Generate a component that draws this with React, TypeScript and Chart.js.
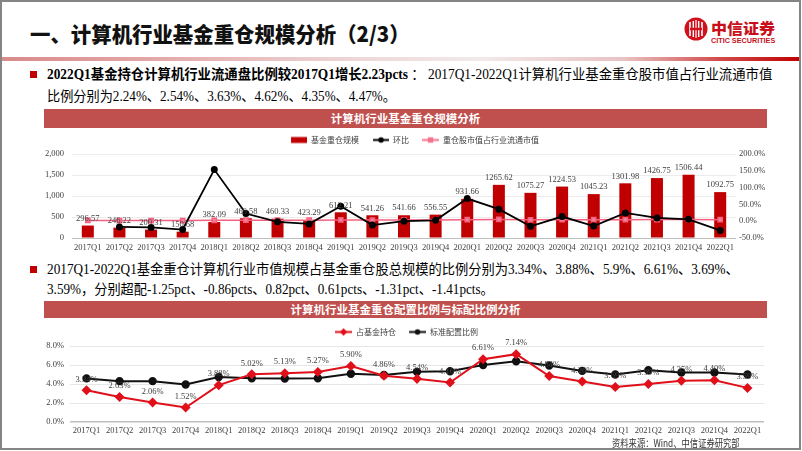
import React, { useEffect, useLayoutEffect, useRef, useState } from "react";
import { Chart, registerables } from "chart.js";
Chart.register(...registerables);

const SERIF = "'Liberation Serif', 'Noto Sans CJK SC', serif";
const CJK = "'Noto Sans CJK SC', 'Liberation Sans', sans-serif";

// ---------- data ----------
const quarters = [
  "2017Q1", "2017Q2", "2017Q3", "2017Q4", "2018Q1", "2018Q2", "2018Q3", "2018Q4",
  "2019Q1", "2019Q2", "2019Q3", "2019Q4", "2020Q1", "2020Q2", "2020Q3", "2020Q4",
  "2021Q1", "2021Q2", "2021Q3", "2021Q4", "2022Q1",
];
// 基金重仓规模 (亿元)
const fundScale = [
  296.57, 246.22, 200.31, 150.68, 382.09, 469.58, 460.33, 423.29, 612.21, 541.26, 541.66,
  556.55, 931.66, 1265.62, 1075.27, 1224.53, 1045.23, 1301.98, 1426.75, 1506.44, 1092.75,
];
// 环比 (%)
const qoqChange = [
  null, -17.0, -18.6, -24.8, 153.6, 22.9, -2.0, -8.0, 44.6, -11.6, 0.1,
  2.7, 67.4, 35.8, -15.0, 13.9, -14.6, 24.6, 9.6, 5.6, -27.5,
];
// 重仓股市值占行业流通市值 (%)
const floatShare = [
  2.24, 2.05, 1.98, 1.82, 2.54, 2.92, 2.86, 2.95, 3.63, 3.41, 3.48,
  3.55, 4.62, 5.1, 4.3, 4.56, 4.35, 4.58, 4.72, 4.69, 4.47,
];
// 占基金持仓 (%)
const holdingShare = [
  3.34, 2.63, 2.06, 1.52, 3.88, 5.02, 5.13, 5.27, 5.9, 4.86, 4.54,
  4.16, 6.61, 7.14, 4.84, 4.26, 3.69, 3.99, 4.35, 4.4, 3.59,
];
// 标准配置比例 (%)
const benchmarkShare = [
  4.59, 4.3, 4.3, 3.95, 4.74, 4.6, 4.58, 4.6, 5.08, 4.95, 5.28,
  5.35, 6.0, 6.4, 5.95, 5.38, 5.0, 5.44, 5.22, 5.22, 5.0,
];
const scaleTicks = { min: 0, max: 2000, step: 500 };
const growthTicks = { min: -50, max: 200, step: 50 };
const shareTicks = { min: 0, max: 8, step: 2 };

// ---------- helpers ----------
function makeIcon(kind: string, color: string, width: number, body: number) {
  const c = document.createElement("canvas");
  c.width = width;
  c.height = 9;
  const ctx = c.getContext("2d")!;
  const lead = width - body;
  const cx = lead + body / 2;
  const cy = 4.5;
  ctx.fillStyle = color;
  ctx.strokeStyle = color;
  if (kind === "bar") {
    ctx.fillRect(lead, 1.5, body, 6);
  } else {
    ctx.lineWidth = 2;
    ctx.beginPath();
    ctx.moveTo(lead, cy);
    ctx.lineTo(width, cy);
    ctx.stroke();
    if (kind === "circle") {
      ctx.beginPath();
      ctx.arc(cx, cy, 2.8, 0, Math.PI * 2);
      ctx.fill();
    } else if (kind === "square") {
      ctx.fillRect(cx - 2.7, cy - 2.7, 5.4, 5.4);
    } else if (kind === "diamond") {
      ctx.beginPath();
      ctx.moveTo(cx, cy - 3.8);
      ctx.lineTo(cx + 3.8, cy);
      ctx.lineTo(cx, cy + 3.8);
      ctx.lineTo(cx - 3.8, cy);
      ctx.closePath();
      ctx.fill();
    }
  }
  return c;
}

function legendOptions(icons: HTMLCanvasElement[], w: number) {
  return {
    display: true,
    position: "top",
    align: "center",
    labels: {
      usePointStyle: true,
      pointStyleWidth: w,
      boxHeight: 8,
      padding: 4,
      color: "#404040",
      font: { family: CJK, size: 8 },
      generateLabels: (chart: any) =>
        chart.data.datasets.map((ds: any, i: number) => ({
          text: ds.label,
          pointStyle: icons[i],
          fillStyle: "rgba(0,0,0,0)",
          strokeStyle: "rgba(0,0,0,0)",
          lineWidth: 0,
          hidden: false,
          datasetIndex: i,
          fontColor: "#404040",
        })),
    },
  };
}

const tickFont = { family: SERIF, size: 8.5 };

const barLabelPlugin = {
  id: "barLabels",
  afterDatasetsDraw(chart: any) {
    const meta = chart.getDatasetMeta(0);
    const data = chart.data.datasets[0].data;
    const ctx = chart.ctx;
    ctx.save();
    ctx.font = `8.5px ${SERIF}`;
    ctx.fillStyle = "#404040";
    ctx.textAlign = "center";
    ctx.textBaseline = "middle";
    meta.data.forEach((el: any, i: number) => {
      ctx.fillText(Number(data[i]).toFixed(2), el.x, el.y - 7);
    });
    ctx.restore();
  },
};

const pointLabelPlugin = {
  id: "pointLabels",
  afterDatasetsDraw(chart: any) {
    const meta = chart.getDatasetMeta(0);
    const data = chart.data.datasets[0].data;
    const ctx = chart.ctx;
    ctx.save();
    ctx.font = `8.5px ${SERIF}`;
    ctx.fillStyle = "#404040";
    ctx.textAlign = "center";
    ctx.textBaseline = "middle";
    meta.data.forEach((el: any, i: number) => {
      ctx.fillText(Number(data[i]).toFixed(2) + "%", el.x, el.y - 11);
    });
    ctx.restore();
  },
};

function buildTopChart(): any {
  const icons = [
    makeIcon("bar", "#c00000", 26, 16),
    makeIcon("circle", "#000000", 26, 16),
    makeIcon("square", "#f4728d", 26, 17),
  ];
  return {
    type: "bar",
    data: {
      labels: quarters,
      datasets: [
        {
          type: "bar",
          label: "基金重仓规模",
          data: fundScale,
          backgroundColor: "#c00000",
          yAxisID: "y",
          order: 3,
          barPercentage: 0.38,
          categoryPercentage: 1,
        },
        {
          type: "line",
          label: "环比",
          data: qoqChange,
          yAxisID: "y1",
          borderColor: "#000000",
          backgroundColor: "#000000",
          borderWidth: 1.8,
          pointRadius: 2.6,
          pointStyle: "circle",
          order: 1,
        },
        {
          type: "line",
          label: "重仓股市值占行业流通市值",
          data: floatShare,
          yAxisID: "y1",
          borderColor: "#f4607f",
          backgroundColor: "#f4829a",
          borderWidth: 1.5,
          pointRadius: 3,
          pointStyle: "rect",
          order: 2,
        },
      ],
    },
    options: {
      animation: false,
      responsive: true,
      maintainAspectRatio: false,
      layout: { padding: 0 },
      plugins: { legend: legendOptions(icons, 26), tooltip: { enabled: false } },
      scales: {
        x: {
          grid: { display: false, drawTicks: false },
          border: { display: false },
          ticks: { autoSkip: false, maxRotation: 0, minRotation: 0, padding: 5, font: tickFont, color: "#404040" },
          afterFit: (s: any) => { s.height = 16; },
        },
        y: {
          position: "left",
          min: scaleTicks.min,
          max: scaleTicks.max,
          ticks: {
            stepSize: scaleTicks.step,
            padding: 8,
            font: tickFont,
            color: "#404040",
            callback: (v: any) => Number(v).toLocaleString("en-US"),
          },
          grid: { drawTicks: false, color: (c: any) => (c.tick && c.tick.value === 0 ? "#bfbfbf" : "#ececec") },
          border: { display: false },
          afterFit: (s: any) => { s.width = 32; },
        },
        y1: {
          position: "right",
          min: growthTicks.min,
          max: growthTicks.max,
          ticks: {
            stepSize: growthTicks.step,
            padding: 3,
            font: tickFont,
            color: "#404040",
            callback: (v: any) => Number(v).toFixed(1) + "%",
          },
          grid: { display: false, drawTicks: false },
          border: { display: false },
          afterFit: (s: any) => { s.width = 44; },
        },
      },
    },
    plugins: [barLabelPlugin],
  };
}

function buildBottomChart(): any {
  const icons = [
    makeIcon("diamond", "#e0101b", 26, 17),
    makeIcon("circle", "#111111", 26, 17),
  ];
  return {
    type: "line",
    data: {
      labels: quarters,
      datasets: [
        {
          label: "占基金持仓",
          data: holdingShare,
          borderColor: "#e0101b",
          backgroundColor: "#e0101b",
          borderWidth: 2,
          pointStyle: "rectRot",
          pointRadius: 3.6,
          order: 1,
        },
        {
          label: "标准配置比例",
          data: benchmarkShare,
          borderColor: "#111111",
          backgroundColor: "#111111",
          borderWidth: 2,
          pointStyle: "circle",
          pointRadius: 3.2,
          order: 2,
        },
      ],
    },
    options: {
      animation: false,
      responsive: true,
      maintainAspectRatio: false,
      layout: { padding: { top: 2, right: 16, left: 0, bottom: 0 } },
      plugins: { legend: legendOptions(icons, 26), tooltip: { enabled: false } },
      scales: {
        x: {
          offset: true,
          grid: { display: false, drawTicks: false },
          border: { display: false },
          ticks: { autoSkip: false, maxRotation: 0, minRotation: 0, padding: 4, font: tickFont, color: "#404040" },
          afterFit: (s: any) => { s.height = 16; },
        },
        y: {
          min: shareTicks.min,
          max: shareTicks.max,
          ticks: {
            stepSize: shareTicks.step,
            padding: 6,
            font: tickFont,
            color: "#404040",
            callback: (v: any) => Number(v).toFixed(1) + "%",
          },
          grid: { drawTicks: false, color: (c: any) => (c.tick && c.tick.value === 0 ? "#bfbfbf" : "#e6e6e6"), lineWidth: (c: any) => (c.tick && c.tick.value === 0 ? 1.5 : 1) },
          border: { display: false },
          afterFit: (s: any) => { s.width = 30; },
        },
      },
    },
    plugins: [pointLabelPlugin],
  };
}

// ---------- components ----------
function ChartBox({ left, top, width, height, build }: { left: number; top: number; width: number; height: number; build: () => any }) {
  const ref = useRef<HTMLCanvasElement>(null);
  useEffect(() => {
    const chart = new Chart(ref.current as HTMLCanvasElement, build());
    return () => chart.destroy();
  }, []);
  return (
    <div style={{ position: "absolute", left, top, width, height }}>
      <canvas ref={ref} />
    </div>
  );
}

type FitProps = {
  x: number;
  cy: number;
  w: number;
  size: number;
  weight?: number | string;
  color?: string;
  family?: string;
  children: React.ReactNode;
};

function FitText({ x, cy, w, size, weight = "normal", color = "#000", family = SERIF, children }: FitProps) {
  const ref = useRef<HTMLSpanElement>(null);
  const [sx, setSx] = useState(1);
  useLayoutEffect(() => {
    const measure = () => {
      const el = ref.current;
      if (el && el.offsetWidth > 0) setSx(w / el.offsetWidth);
    };
    measure();
    const f = (document as any).fonts;
    if (f && f.ready) f.ready.then(measure);
  }, [w]);
  const lh = Math.round(size * 1.4);
  return (
    <div
      style={{
        position: "absolute",
        left: x,
        top: cy - lh / 2,
        height: lh,
        lineHeight: lh + "px",
        whiteSpace: "nowrap",
        fontSize: size,
        fontWeight: weight as any,
        color,
        fontFamily: family,
      }}
    >
      <span ref={ref} style={{ display: "inline-block", transform: `scaleX(${sx})`, transformOrigin: "0 50%" }}>
        {children}
      </span>
    </div>
  );
}

function Band({ top, height, text }: { top: number; height: number; text: string }) {
  return (
    <div
      style={{
        position: "absolute",
        left: 44,
        top,
        width: 723,
        height,
        background: "#c0504d",
        color: "#fff",
        fontFamily: CJK,
        fontWeight: 700,
        fontSize: 11.5,
        lineHeight: height + "px",
        textAlign: "center",
        whiteSpace: "nowrap",
      }}
    >
      {text}
    </div>
  );
}

function Bullet({ top }: { top: number }) {
  return <div style={{ position: "absolute", left: 30, top, width: 7, height: 7, background: "#c00000" }} />;
}

function Logo() {
  return (
    <>
      <svg style={{ position: "absolute", left: 684, top: 17 }} width={24} height={24} viewBox="0 0 24 24">
        <circle cx={12} cy={12} r={11.5} fill="#d0101b" />
        <path d="M6 5 V19 M18 5 V19" stroke="#fff" strokeWidth={1.6} fill="none" />
        <path d="M9.3 4 V20 M14.7 4 V20" stroke="#fff" strokeWidth={1.4} fill="none" />
        <path d="M12 3 V21" stroke="#fff" strokeWidth={1.2} fill="none" />
        <path d="M6 12 H18" stroke="#d0101b" strokeWidth={2.4} fill="none" />
      </svg>
      <FitText x={711} cy={27} w={64} size={15} weight={900} color="#c8101a" family={CJK}>
        中信证券
      </FitText>
      <FitText x={711} cy={41} w={64} size={7} weight={700} color="#c8101a" family="'Liberation Sans', sans-serif">
        CITIC SECURITIES
      </FitText>
    </>
  );
}

export default function App() {
  return (
    <div
      style={{
        position: "fixed",
        left: 0,
        top: 0,
        width: 802,
        height: 451,
        background: "#ffffff",
        overflow: "hidden",
      }}
    >
      <FitText x={30} cy={33} w={380} size={21} weight={900} color="#111" family={CJK}>
        一、计算机行业基金重仓规模分析（2/3）
      </FitText>
      <Logo />
      <div
        style={{
          position: "absolute",
          left: 2,
          top: 57,
          width: 798,
          height: 4,
          background:
            "linear-gradient(to right, #d98a8a 0%, #e3a6a6 18%, #eed8d8 45%, #f2eaea 60%, #e9c2c2 78%, #d24a4a 90%, #c00000 100%)",
        }}
      />

      <Bullet top={71} />
      <FitText x={47} cy={75} w={725} size={14}>
        <b>2022Q1基金持仓计算机行业流通盘比例较2017Q1增长2.23pcts</b> ： 2017Q1-2022Q1计算机行业基金重仓股市值占行业流通市值
      </FitText>
      <FitText x={47} cy={97} w={349} size={14}>
        比例分别为2.24%、2.54%、3.63%、4.62%、4.35%、4.47%。
      </FitText>

      <Band top={109} height={19} text="计算机行业基金重仓规模分析" />
      <ChartBox left={40} top={132} width={740} height={122} build={buildTopChart} />

      <Bullet top={266} />
      <FitText x={47} cy={270} w={692} size={14}>
        2017Q1-2022Q1基金重仓计算机行业市值规模占基金重仓股总规模的比例分别为3.34%、3.88%、5.9%、6.61%、3.69%、
      </FitText>
      <FitText x={47} cy={290} w={447} size={14}>
        3.59%，分别超配-1.25pct、-0.86pcts、0.82pct、0.61pcts、-1.31pct、-1.41pcts。
      </FitText>

      <Band top={301} height={17} text="计算机行业基金重仓配置比例与标配比例分析" />
      <ChartBox left={40} top={322} width={740} height={116} build={buildBottomChart} />

      <FitText x={612} cy={442} w={128} size={10.5} color="#333" family={CJK}>
        资料来源：Wind、中信证券研究部
      </FitText>

      <div
        style={{
          position: "absolute",
          left: 0,
          top: 0,
          width: 801,
          height: 450,
          boxSizing: "border-box",
          border: "2px solid #858585",
          pointerEvents: "none",
        }}
      />
    </div>
  );
}
